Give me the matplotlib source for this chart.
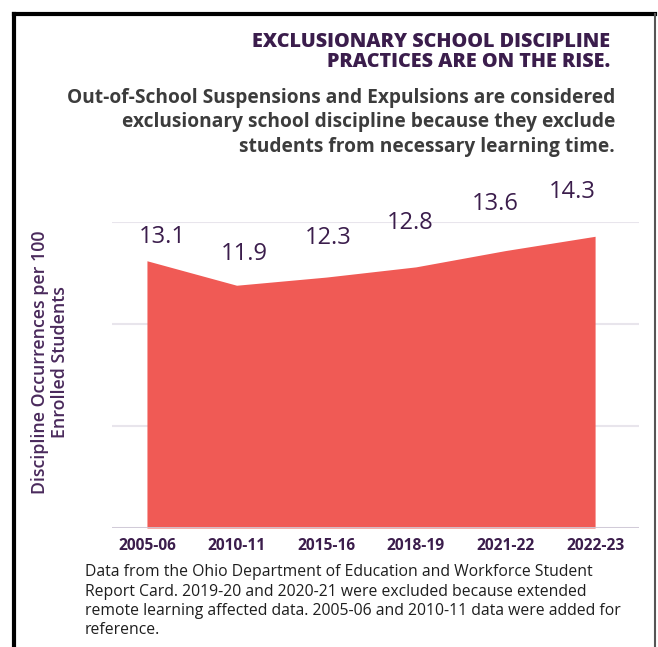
import numpy as np
import matplotlib
matplotlib.use("Agg")
from matplotlib import pyplot as plt
from matplotlib.lines import Line2D

# school years and discipline occurrences per 100 enrolled students
years = ["2005-06", "2010-11", "2015-16", "2018-19", "2021-22", "2022-23"]
rates = [13.1, 11.9, 12.3, 12.8, 13.6, 14.3]

# where each number label sits relative to its point (pixels)
label_dx = [15, 8, 2, -6, -10, -23]
label_dy = [24, 31, 39, 44, 47, 44]

purple = "#3b1d4c"
red = "#f05a55"

plt.rcParams['font.family'] = ['Open Sans', 'DejaVu Sans']

fig = plt.figure(figsize=(6.58, 6.47), dpi=100)
W, H = 658, 647

# plot area in pixel terms
ax = fig.add_axes([112 / W, (H - 528) / H, (639 - 112) / W, (528 - 222) / H])
x = np.arange(len(years))
ax.fill_between(x, rates, 0, color=red, linewidth=0, zorder=2)
ax.set_xlim(-0.39, 5.49)
ax.set_ylim(0, 15)
ax.set_yticks([0, 5, 10, 15])
ax.set_yticklabels([])
ax.tick_params(axis='y', length=0)
ax.grid(axis='y', color="#e8e5ec", linewidth=1.5, zorder=1)
ax.axhline(0, color="#cfc8d6", linewidth=2, zorder=3)
for s in ax.spines.values():
    s.set_visible(False)

ax.set_xticks(x)
ax.set_xticklabels(years, fontsize=11.2, fontweight='bold', color=purple)
ax.tick_params(axis='x', length=0, pad=7)

for i, v in enumerate(rates):
    ax.annotate(f"{v}", (x[i], v), xytext=(label_dx[i], label_dy[i]),
                textcoords='offset pixels', ha='center', va='center',
                fontsize=17, color=purple)

ax.set_ylabel("Discipline Occurrences per 100\nEnrolled Students",
              fontsize=12.8, color="#4a2a5c", fontweight='semibold',
              linespacing=1.15)
ax.yaxis.set_label_coords((69 - 112) / 527, (528 - 362) / 306)

# titles
fig.text(610 / W, 1 - 42 / H, "EXCLUSIONARY SCHOOL DISCIPLINE",
         ha='right', va='center', fontsize=14.2, fontweight='heavy', color=purple)
fig.text(610 / W, 1 - 62 / H, "PRACTICES ARE ON THE RISE.",
         ha='right', va='center', fontsize=14.2, fontweight='heavy', color=purple)

subtitle = ["Out-of-School Suspensions and Expulsions are considered",
            "exclusionary school discipline because they exclude",
            "students from necessary learning time."]
for i, line in enumerate(subtitle):
    fig.text(615 / W, 1 - (98 + 24.5 * i) / H, line, ha='right', va='center',
             fontsize=13.8, fontweight='bold', color="#3c3c3c")

note = ["Data from the Ohio Department of Education and Workforce Student",
        "Report Card. 2019-20 and 2020-21 were excluded because extended",
        "remote learning affected data. 2005-06 and 2010-11 data were added for",
        "reference."]
for i, line in enumerate(note):
    fig.text(85 / W, 1 - (572 + 19.5 * i) / H, line, ha='left', va='center',
             fontsize=11.3, color="#1e1e1e")

# frame around the graphic (open at the bottom)
frame_kw = dict(transform=fig.transFigure, color="black", linewidth=3)
fig.add_artist(Line2D([13.5 / W, 13.5 / W], [0, 1 - 13.5 / H], **frame_kw))
fig.add_artist(Line2D([13.5 / W, 655 / W], [1 - 13.5 / H, 1 - 13.5 / H], **frame_kw))
fig.add_artist(Line2D([655 / W, 655 / W], [0, 1 - 13.5 / H],
                      transform=fig.transFigure, color="#555555", linewidth=1.5))

fig.savefig("out.png", dpi=100)
